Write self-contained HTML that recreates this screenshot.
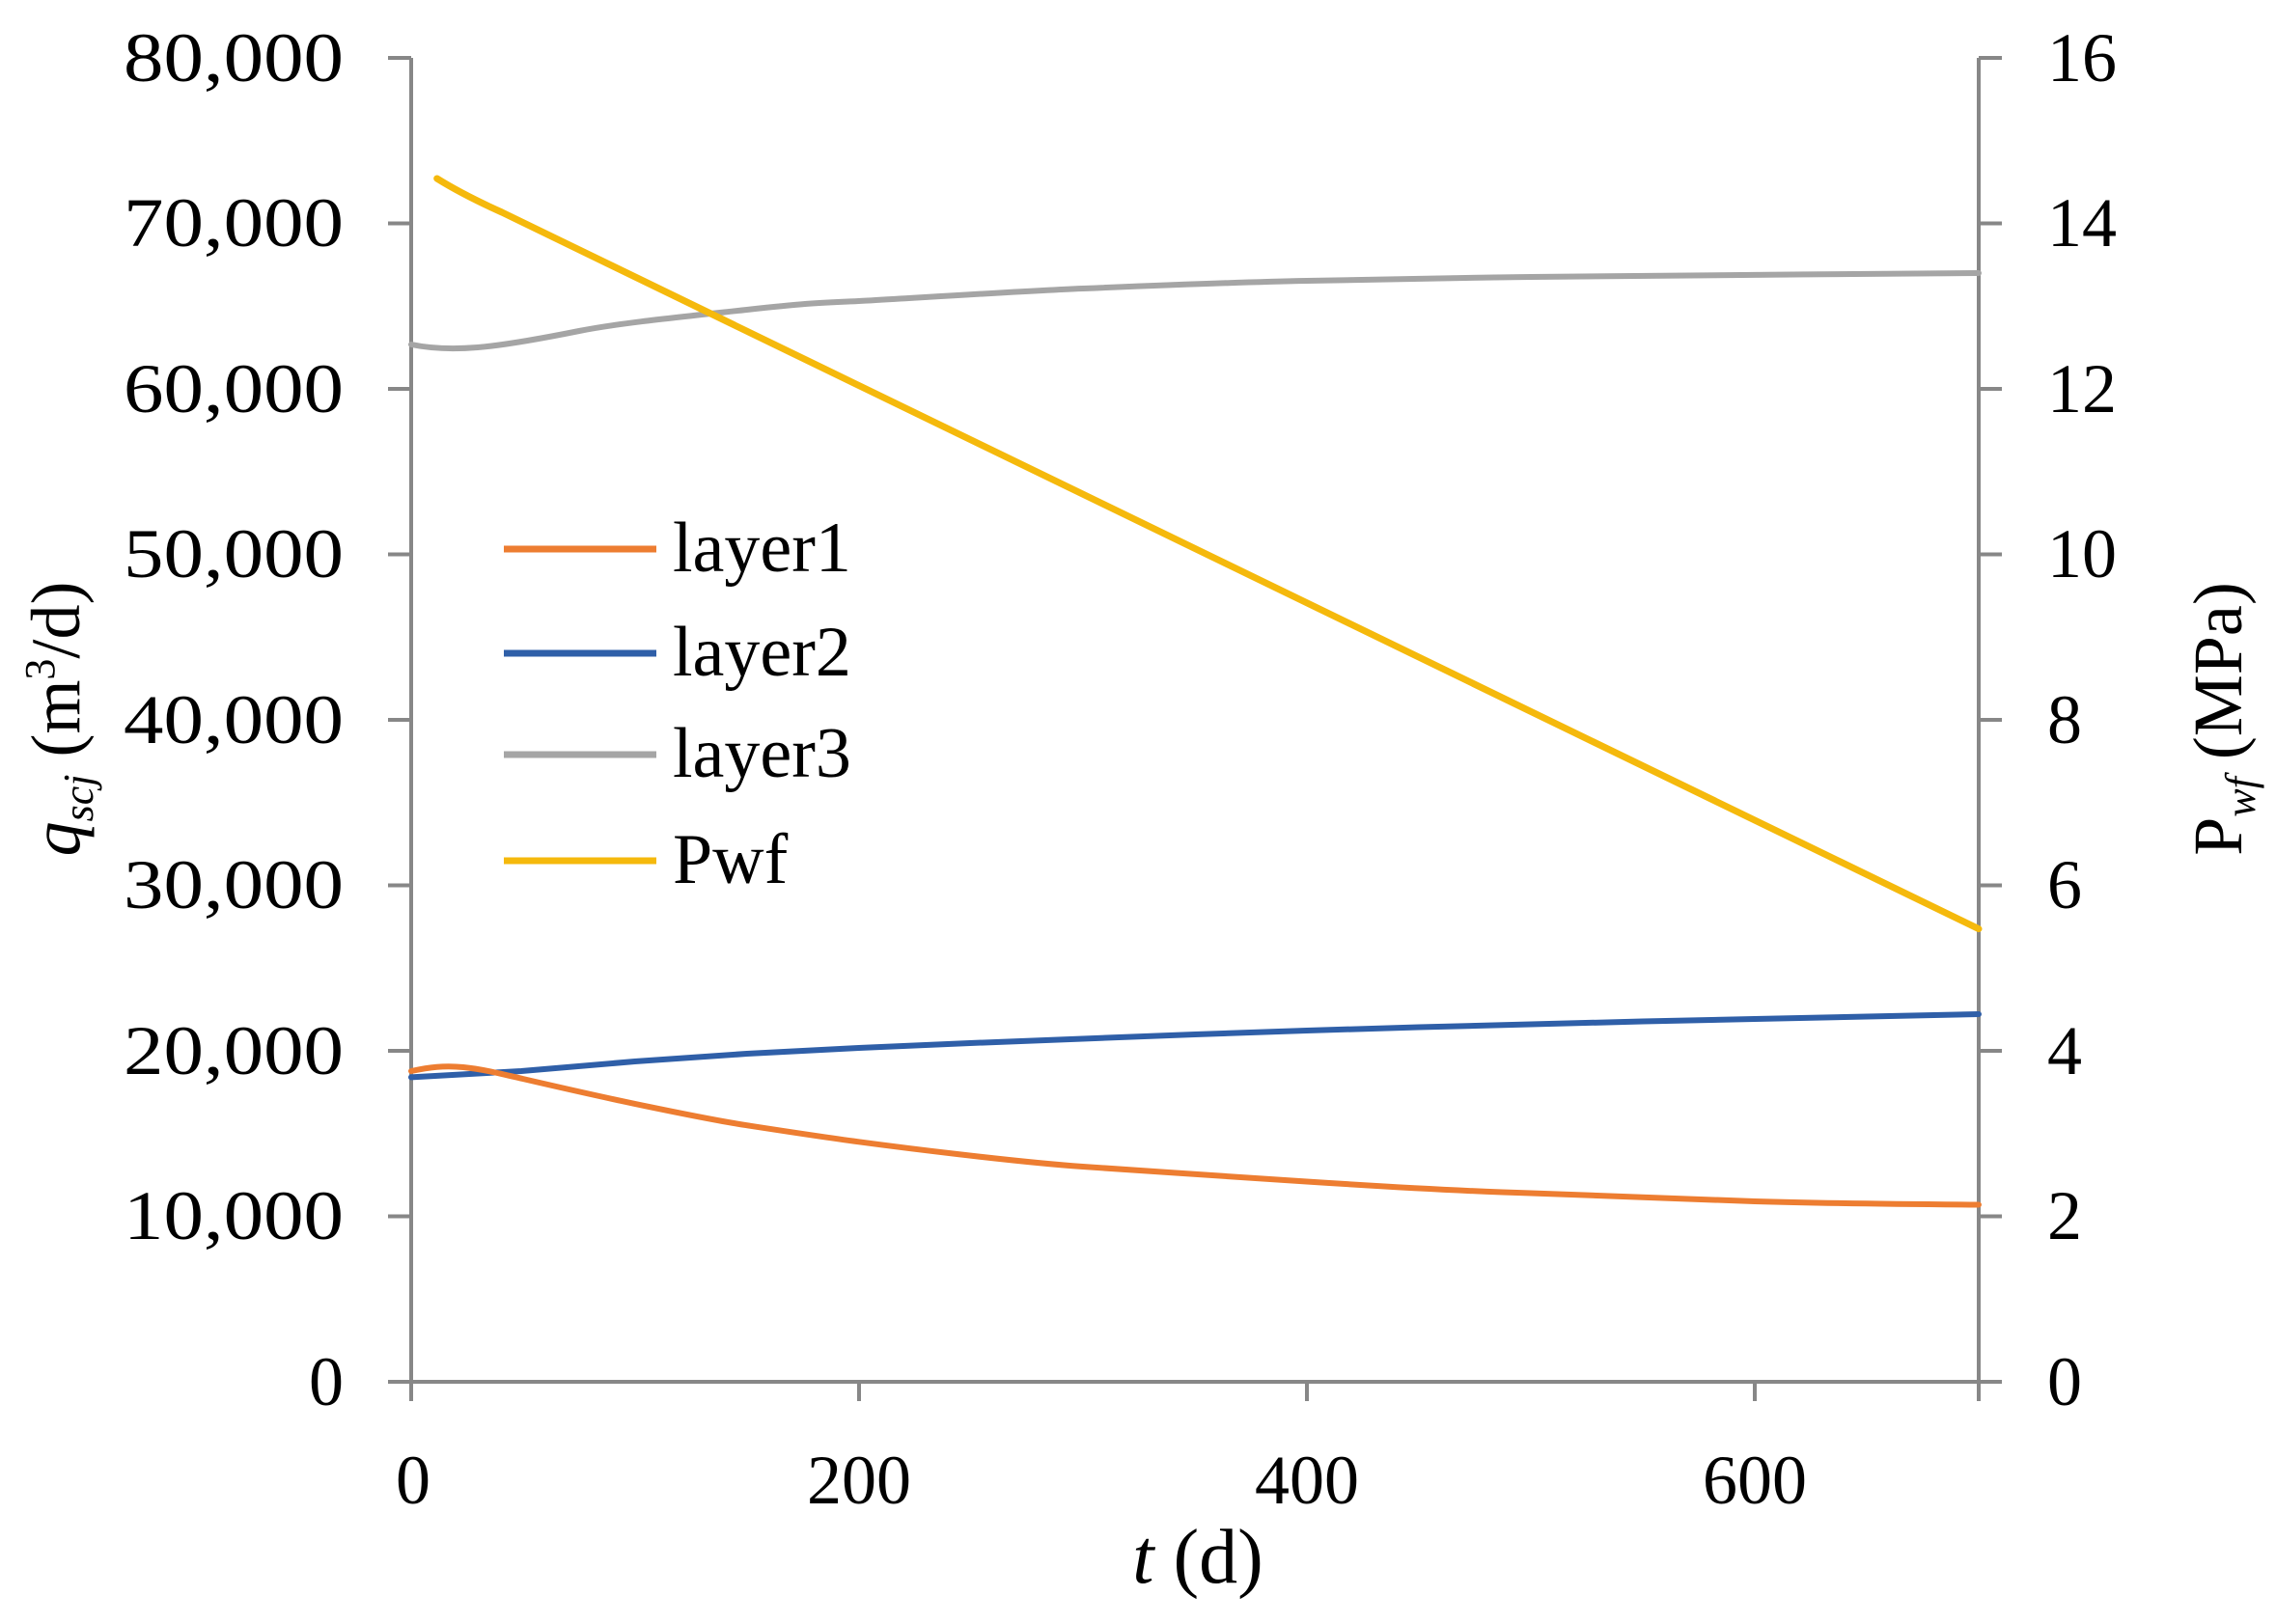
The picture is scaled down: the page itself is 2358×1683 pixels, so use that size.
<!DOCTYPE html>
<html><head><meta charset="utf-8"><style>
html,body{margin:0;padding:0;background:#fff;}
svg{display:block;}
text{font-family:"Liberation Serif",serif;fill:#000;}
</style></head><body>
<svg width="2358" height="1683" viewBox="0 0 2358 1683" xmlns="http://www.w3.org/2000/svg">
<g stroke="#878787" stroke-width="4" fill="none">
<line x1="426" y1="60" x2="426" y2="1432"/>
<line x1="2050" y1="60" x2="2050" y2="1432"/>
<line x1="426" y1="1432" x2="2050" y2="1432"/>
<line x1="402" y1="60" x2="426" y2="60"/>
<line x1="402" y1="231.5" x2="426" y2="231.5"/>
<line x1="402" y1="403" x2="426" y2="403"/>
<line x1="402" y1="574.5" x2="426" y2="574.5"/>
<line x1="402" y1="746" x2="426" y2="746"/>
<line x1="402" y1="917.5" x2="426" y2="917.5"/>
<line x1="402" y1="1089" x2="426" y2="1089"/>
<line x1="402" y1="1260.5" x2="426" y2="1260.5"/>
<line x1="402" y1="1432" x2="426" y2="1432"/>
<line x1="2050" y1="60" x2="2074" y2="60"/>
<line x1="2050" y1="231.5" x2="2074" y2="231.5"/>
<line x1="2050" y1="403" x2="2074" y2="403"/>
<line x1="2050" y1="574.5" x2="2074" y2="574.5"/>
<line x1="2050" y1="746" x2="2074" y2="746"/>
<line x1="2050" y1="917.5" x2="2074" y2="917.5"/>
<line x1="2050" y1="1089" x2="2074" y2="1089"/>
<line x1="2050" y1="1260.5" x2="2074" y2="1260.5"/>
<line x1="2050" y1="1432" x2="2074" y2="1432"/>
<line x1="426" y1="1432" x2="426" y2="1452"/>
<line x1="890" y1="1432" x2="890" y2="1452"/>
<line x1="1354" y1="1432" x2="1354" y2="1452"/>
<line x1="1818" y1="1432" x2="1818" y2="1452"/>
<line x1="2050" y1="1432" x2="2050" y2="1452"/>
</g>
<g font-size="72" text-anchor="end">
<text x="356" y="84" textLength="228" lengthAdjust="spacingAndGlyphs">80,000</text>
<text x="356" y="255" textLength="228" lengthAdjust="spacingAndGlyphs">70,000</text>
<text x="356" y="427" textLength="228" lengthAdjust="spacingAndGlyphs">60,000</text>
<text x="356" y="598" textLength="228" lengthAdjust="spacingAndGlyphs">50,000</text>
<text x="356" y="770" textLength="228" lengthAdjust="spacingAndGlyphs">40,000</text>
<text x="356" y="941" textLength="228" lengthAdjust="spacingAndGlyphs">30,000</text>
<text x="356" y="1113" textLength="228" lengthAdjust="spacingAndGlyphs">20,000</text>
<text x="356" y="1284" textLength="228" lengthAdjust="spacingAndGlyphs">10,000</text>
<text x="356" y="1456">0</text>
</g>
<g font-size="72" text-anchor="start">
<text x="2121" y="84">16</text>
<text x="2121" y="255">14</text>
<text x="2121" y="427">12</text>
<text x="2121" y="598">10</text>
<text x="2121" y="770">8</text>
<text x="2121" y="941">6</text>
<text x="2121" y="1113">4</text>
<text x="2121" y="1284">2</text>
<text x="2121" y="1456">0</text>
</g>
<g font-size="72" text-anchor="middle">
<text x="428" y="1558">0</text>
<text x="890" y="1558">200</text>
<text x="1354" y="1558">400</text>
<text x="1818" y="1558">600</text>
<text x="1241" y="1640" font-size="80"><tspan font-style="italic">t</tspan> (d)</text>
</g>
<text transform="translate(82,745) rotate(-90)" font-size="72" text-anchor="middle"><tspan font-style="italic">q</tspan><tspan font-size="44" font-style="italic" dy="14">scj</tspan><tspan dy="-14"> (m</tspan><tspan font-size="44" dy="-26">3</tspan><tspan dy="26">/d)</tspan></text>
<text transform="translate(2322,745) rotate(-90)" font-size="72" text-anchor="middle">P<tspan font-size="44" font-style="italic" dy="14">wf</tspan><tspan dy="-14"> (MPa)</tspan></text>
<g fill="none" stroke-width="6" stroke-linejoin="round" stroke-linecap="round">
<path stroke="#A5A5A5" d="M426,357 C445,361 470,362 495,360 S560,351 600,343 S700,329 773.7,321 S850,314 889.7,312 S1050,302 1121.8,299 S1300,292 1353.8,291 S1500,288 1585.9,287 S1900,284 2050,283"/>
<path stroke="#2F5FA8" d="M426,1116.4 L540,1110 L657.7,1100 L773.7,1092 L889.7,1086 L1005,1081 L1121.8,1076.5 L1238,1072 L1353.8,1068 L1470,1064.5 L1585.9,1061.5 L1702,1058.5 L1817.9,1056 L1934,1053.5 L2050,1051"/>
<path stroke="#ED7D31" d="M426,1110 C445,1106 460,1104 480,1106 S520,1113 541.6,1118 S620,1136 657.7,1143.9 S740,1161 773.7,1166.2 S850,1178 889.7,1183.3 S1050,1204 1121.8,1209 S1300,1221 1353.8,1224.5 S1500,1234 1585.9,1236.5 S1750,1243 1817.9,1245 S1980,1248 2050,1248.5"/>
<path stroke="#F5B90C" stroke-width="7" d="M452.7,185 Q480,202 520,220 L2050,962.6"/>
</g>
<g stroke-width="7">
<line x1="522" y1="569" x2="680" y2="569" stroke="#ED7D31"/>
<line x1="522" y1="677" x2="680" y2="677" stroke="#2F5FA8"/>
<line x1="522" y1="782" x2="680" y2="782" stroke="#A5A5A5"/>
<line x1="522" y1="892" x2="680" y2="892" stroke="#F5B90C"/>
</g>
<g font-size="74">
<text x="697" y="592">layer1</text>
<text x="697" y="700">layer2</text>
<text x="697" y="805">layer3</text>
<text x="697" y="915">Pwf</text>
</g>
</svg>
</body></html>
